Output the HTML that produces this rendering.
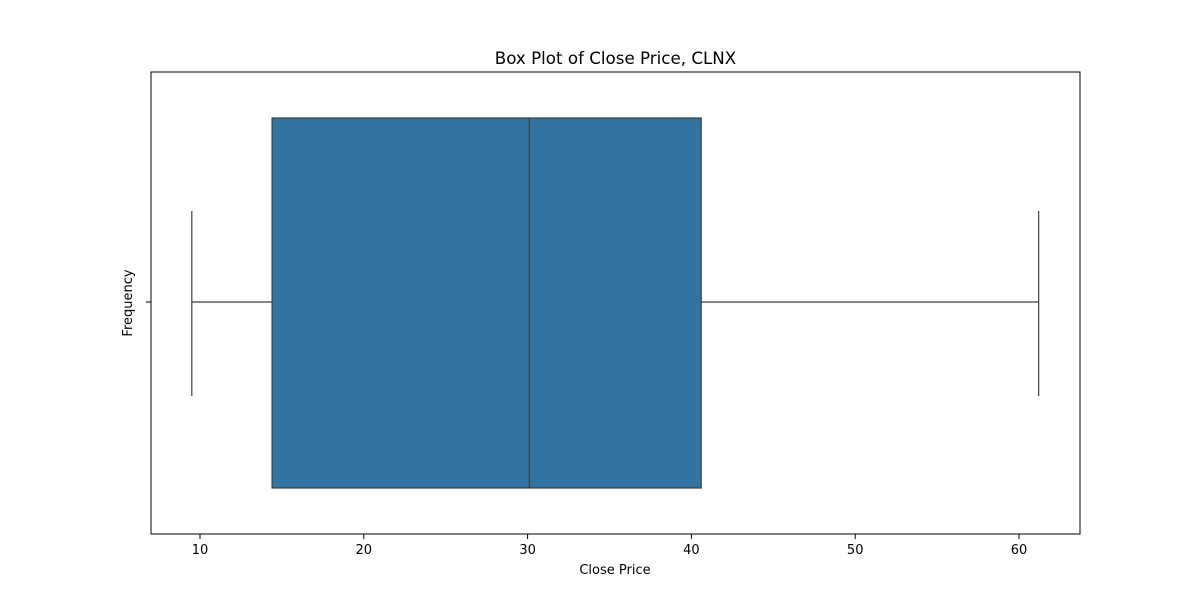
<!DOCTYPE html>
<html><head><meta charset="utf-8"><style>
body{margin:0;background:#fff;font-family:"DejaVu Sans","Liberation Sans",sans-serif}
</style></head><body>
<svg id="chart" width="1200" height="600" xmlns="http://www.w3.org/2000/svg" font-family="'DejaVu Sans','Liberation Sans',sans-serif">
<rect width="1200" height="600" fill="#fff"/>
<text x="615.5" y="64" text-anchor="middle" font-size="16.7" fill="#000">Box Plot of Close Price, CLNX</text>
<g id="marks"></g>
<g id="ticks"></g>
<rect x="151" y="72" width="929" height="462" fill="none" stroke="#000" stroke-width="1"/>
<line x1="146" y1="302" x2="151" y2="302" stroke="#000"/>
<text x="615" y="574" text-anchor="middle" font-size="13">Close Price</text>
<text transform="translate(132,303) rotate(-90)" text-anchor="middle" font-size="13">Frequency</text>
</svg>
<script>
const stats = [9.5, 14.4, 30.1, 40.6, 61.2]; // min, q1, median, q3, max
const tickValues = [10, 20, 30, 40, 50, 60];
const tickLabels = ["10", "20", "30", "40", "50", "60"];
const NS = "http://www.w3.org/2000/svg";
function xs(v){ return 200 + (v - 10) * 16.38; }
function mk(tag, attrs, parent){ const e=document.createElementNS(NS,tag); for(const k in attrs) e.setAttribute(k,attrs[k]); parent.appendChild(e); return e; }
const marks=document.getElementById('marks'), ticks=document.getElementById('ticks');
const cy=302, boxTop=118, boxBot=488, capTop=211, capBot=396, col="#3f3f3f";
let e;
e=mk('line',{x1:xs(stats[0]),y1:cy,x2:xs(stats[1]),y2:cy,stroke:col,'stroke-width':1.2},marks);


e=mk('line',{x1:xs(stats[3]),y1:cy,x2:xs(stats[4]),y2:cy,stroke:col,'stroke-width':1.2},marks);


e=mk('line',{x1:xs(stats[0]),y1:capTop,x2:xs(stats[0]),y2:capBot,stroke:col,'stroke-width':1.2},marks);


e=mk('line',{x1:xs(stats[4]),y1:capTop,x2:xs(stats[4]),y2:capBot,stroke:col,'stroke-width':1.2},marks);


e=mk('rect',{x:xs(stats[1]),y:boxTop,width:xs(stats[3])-xs(stats[1]),height:boxBot-boxTop,fill:"#3274a1",stroke:col,'stroke-width':1.2},marks);


e=mk('line',{x1:xs(stats[2]),y1:boxTop,x2:xs(stats[2]),y2:boxBot,stroke:col,'stroke-width':1.2},marks);


tickValues.forEach((v,i)=>{
  let t=mk('line',{x1:xs(v),y1:534,x2:xs(v),y2:539,stroke:"#000"},ticks);
  
  
  let l=mk('text',{x:xs(v),y:554,'text-anchor':'middle','font-size':13},ticks);
  l.textContent=tickLabels[i];
  
  
});
</script>
</body></html>
